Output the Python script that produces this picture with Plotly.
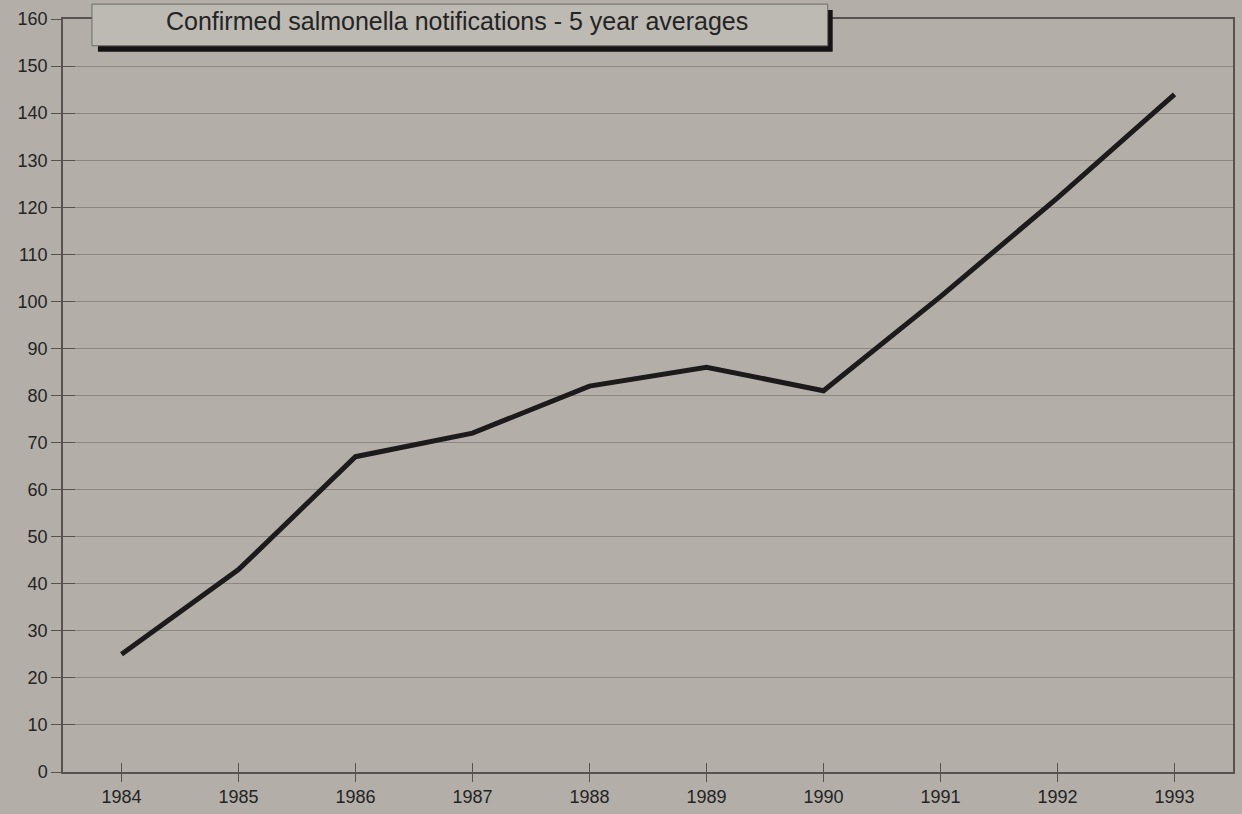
import plotly.graph_objects as go

years = [1984, 1985, 1986, 1987, 1988, 1989, 1990, 1991, 1992, 1993]
notifications = [25, 43, 67, 72, 82, 86, 81, 101, 122, 144]
y_ticks = list(range(0, 161, 10))
title_text = "Confirmed salmonella notifications - 5 year averages"

BG = "#b3aea8"
GRID = "#8c8782"
AXIS = "#55524f"
TXT = "#242424"
FONT = "Liberation Sans, Arial, sans-serif"

fig = go.Figure()
fig.add_trace(go.Scatter(
    x=years, y=notifications, mode="lines",
    line=dict(color="#1c1a1a", width=5),
    hoverinfo="x+y", showlegend=False,
))
# overlay axes only to give ticks that cross the axis lines
fig.add_trace(go.Scatter(x=[], y=[], xaxis="x2", yaxis="y2", showlegend=False, hoverinfo="skip"))

W, H = 1242, 814
L, R, T, B = 63, 7, 19, 36

fig.update_layout(
    width=W, height=H,
    margin=dict(l=L, r=R, t=T, b=B),
    paper_bgcolor=BG, plot_bgcolor=BG,
    font=dict(family=FONT, size=18, color=TXT),
    xaxis=dict(
        range=[1983.5, 1993.5], tickmode="array", tickvals=years,
        ticktext=[str(y) for y in years],
        showgrid=False, zeroline=False,
        showline=True, linecolor=AXIS, linewidth=1.5, mirror=True,
        ticks="outside", ticklen=8, tickcolor=AXIS, tickwidth=1.2,
        tickfont=dict(size=18, color=TXT),
    ),
    yaxis=dict(
        range=[0, 160], tickmode="array", tickvals=y_ticks,
        showgrid=True, gridcolor=GRID, gridwidth=1, zeroline=False,
        showline=True, linecolor=AXIS, linewidth=1.5, mirror=True,
        ticks="outside", ticklen=10, tickcolor=AXIS, tickwidth=1.2,
        tickfont=dict(size=18, color=TXT),
    ),
    xaxis2=dict(
        overlaying="x", range=[1983.5, 1993.5], tickmode="array", tickvals=years,
        showticklabels=False, showgrid=False, zeroline=False, showline=False,
        ticks="inside", ticklen=9, tickcolor=AXIS, tickwidth=1.2,
    ),
    yaxis2=dict(
        overlaying="y", range=[0, 160], tickmode="array", tickvals=y_ticks,
        showticklabels=False, showgrid=False, zeroline=False, showline=False,
        ticks="inside", ticklen=12, tickcolor=AXIS, tickwidth=1.2,
    ),
)

pw = W - L - R
ph = H - T - B
def px(x):
    return (x - L) / pw
def py(y):
    return (H - B - y) / ph

# title box shadow and box
fig.add_shape(type="rect", xref="paper", yref="paper",
              x0=px(98), x1=px(834), y0=py(52), y1=py(10),
              fillcolor="#151313", line=dict(width=0), layer="above")
fig.add_shape(type="rect", xref="paper", yref="paper",
              x0=px(92), x1=px(829), y0=py(46), y1=py(4),
              fillcolor="#bdb9b3", line=dict(color="#6e6a66", width=1), layer="above")
fig.add_annotation(xref="paper", yref="paper", x=px(458), y=py(21),
                   text=title_text, showarrow=False,
                   font=dict(family=FONT, size=25, color=TXT),
                   xanchor="center", yanchor="middle")

fig.write_html("out.html")
